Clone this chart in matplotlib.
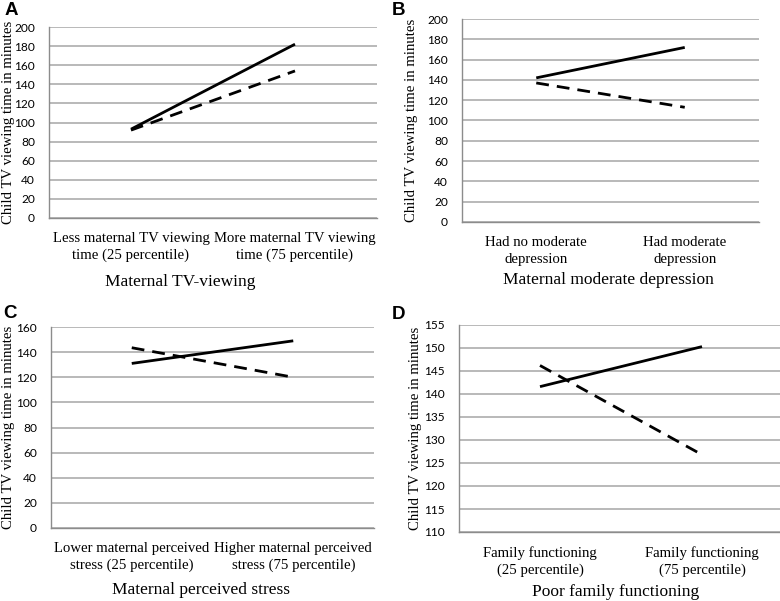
import matplotlib
matplotlib.use("Agg")
import matplotlib.pyplot as plt
import numpy as np

# ---- data ----
cats_A = ["Less maternal TV viewing\ntime (25 percentile)", "More maternal TV viewing\ntime (75 percentile)"]
solid_A = [93, 182]
dashed_A = [92, 154]

cats_B = ["Had no moderate\ndepression", "Had moderate\ndepression"]
solid_B = [142, 172]
dashed_B = [137, 113]

cats_C = ["Lower maternal perceived\nstress (25 percentile)", "Higher maternal perceived\nstress (75 percentile)"]
solid_C = [131, 149]
dashed_C = [143.5, 120]

cats_D = ["Family functioning\n(25 percentile)", "Family functioning\n(75 percentile)"]
solid_D = [141.6, 150.3]
dashed_D = [146.2, 126.8]

xlabels = ["Maternal TV-viewing", "Maternal moderate depression",
           "Maternal perceived stress", "Poor family functioning"]
ylabel = "Child TV viewing time in minutes"
letters = ["A", "B", "C", "D"]
yticks_A = np.arange(0, 201, 20)
yticks_B = np.arange(0, 201, 20)
yticks_C = np.arange(0, 161, 20)
yticks_D = np.arange(110, 156, 5)

W, H = 780, 601
fig = plt.figure(figsize=(W / 100, H / 100), dpi=100)

def box(l, r, t, b):
    return [l / W, 1 - b / H, (r - l) / W, (b - t) / H]

# rect, cats, solid, dashed, yticks, ylabel x (px), xlabel center x (px), xlabel center y (px)
panels = [
    (box(49, 377, 27, 218), cats_A, solid_A, dashed_A, yticks_A, 9, 180, 282),
    (box(462, 759, 19, 222), cats_B, solid_B, dashed_B, yticks_B, 412, 608, 280),
    (box(51, 374, 327, 528), cats_C, solid_C, dashed_C, yticks_C, 9, 201, 590),
    (box(459, 783, 325, 532), cats_D, solid_D, dashed_D, yticks_D, 415, 616, 592),
]

serif = "Liberation Serif"
grid_c = "#a6a6a6"

for i, (rect, cats, s, d, yt, ylx, xlx, xly) in enumerate(panels):
    ax = fig.add_axes(rect)
    x = np.arange(len(cats)) + 0.5
    ax.plot(x, s, color="black", lw=2.0, solid_capstyle="butt", zorder=3)
    ax.plot(x, d, color="black", lw=2.0, dashes=(4.6, 2.9), dash_capstyle="butt", zorder=3)
    ax.set_xlim(0, 2)
    ax.set_ylim(yt[0], yt[-1])
    ax.set_yticks(yt)
    ax.set_yticklabels([str(v) for v in yt], fontfamily="Lato", fontsize=8.6)
    ax.set_xticks(x)
    ax.set_xticklabels(cats, fontfamily=serif, fontsize=10.6, linespacing=1.4)
    ax.tick_params(axis="both", length=0)
    ax.tick_params(axis="y", pad=10)
    ax.tick_params(axis="x", pad=10)
    ax.grid(axis="y", color=grid_c, lw=1.1)
    ax.set_axisbelow(True)
    for sp in ["top", "right"]:
        ax.spines[sp].set_visible(False)
    for sp in ["left", "bottom"]:
        ax.spines[sp].set_color("#8c8c8c")
        ax.spines[sp].set_linewidth(1.0)
    l, b, w, h = rect
    # x label
    fig.text(xlx / W, 1 - xly / H, xlabels[i], fontfamily=serif, fontsize=12.5,
             ha="center", va="center")
    # y label
    fig.text(ylx / W, b + h / 2, ylabel, fontfamily=serif, fontsize=10.6,
             rotation=90, ha="center", va="center")

letter_pos = [(5, 2), (392, 2), (3, 305), (392, 306)]
for (lx, ly), L in zip(letter_pos, letters):
    fig.text(lx / W, 1 - ly / H, L, fontfamily="Liberation Sans", fontweight="bold",
             fontsize=13.5, ha="left", va="top")

fig.savefig("out.png", dpi=100)
